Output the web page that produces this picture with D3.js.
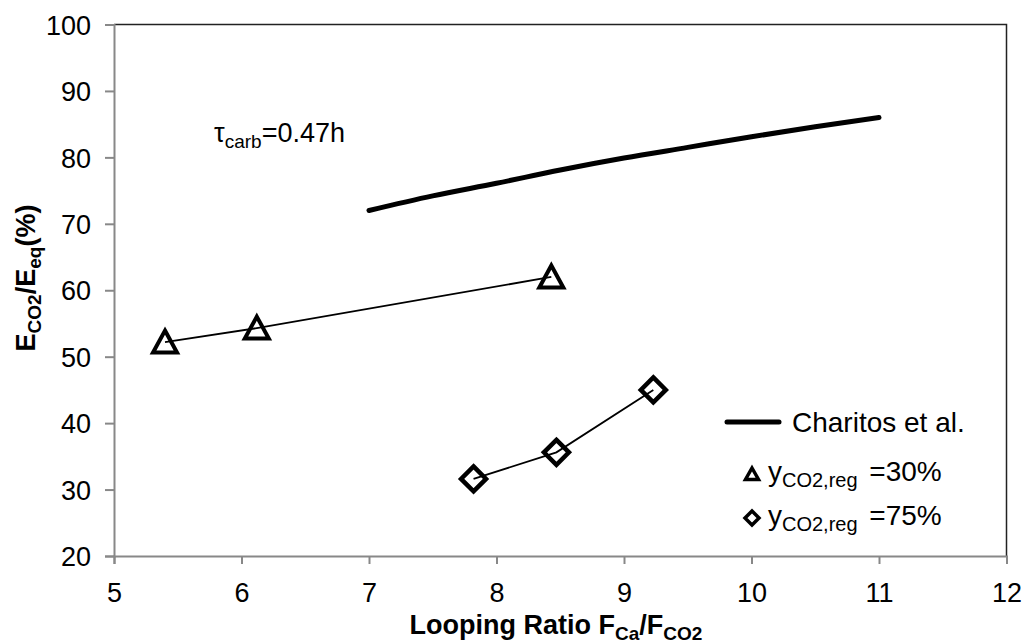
<!DOCTYPE html>
<html>
<head>
<meta charset="utf-8">
<script src="https://cdn.jsdelivr.net/npm/d3@7"></script>
<style>
  body { margin: 0; background: #fff; }
  text { font-family: Arial, "Liberation Sans", sans-serif; fill: #000; }
</style>
</head>
<body>
<div id="chart"></div>
<script>
// Data
var charitosX = [7, 7.5, 8, 8.5, 9, 9.5, 10, 10.5, 11];
var charitosY = [72, 74.2, 76.1, 78.1, 79.9, 81.5, 83.1, 84.6, 86];
var tri30X = [5.4, 6.12, 8.43];
var tri30Y = [52.2, 54.3, 62.0];
var dia75X = [7.82, 8.47, 9.23];
var dia75Y = [31.6, 35.6, 45.0];
var xTicks = [5, 6, 7, 8, 9, 10, 11, 12];
var yTicks = [20, 30, 40, 50, 60, 70, 80, 90, 100];

var width = 1025, height = 644;
var margin = {left: 114, top: 24.5, right: 18.5, bottom: 88};

var svg = d3.select("#chart").append("svg")
    .attr("width", width)
    .attr("height", height);

var x = d3.scaleLinear().domain([5, 12]).range([margin.left, width - margin.right]);
var y = d3.scaleLinear().domain([20, 100]).range([height - margin.bottom, margin.top]);

// top and right border of the plot area
svg.append("path")
    .attr("d", "M" + x(5) + "," + y(100) + "H" + x(12) + "V" + y(20))
    .attr("fill", "none")
    .attr("stroke", "#222")
    .attr("stroke-width", 1.5);

// axes
var xAxis = svg.append("g")
    .attr("transform", "translate(0," + y(20) + ")")
    .call(d3.axisBottom(x).tickValues(xTicks).tickFormat(d3.format("d")).tickSize(8).tickPadding(19));
var yAxis = svg.append("g")
    .attr("transform", "translate(" + x(5) + ",0)")
    .call(d3.axisLeft(y).tickValues(yTicks).tickFormat(d3.format("d")).tickSize(9).tickPadding(14));

[xAxis, yAxis].forEach(function(g) {
  g.select(".domain").attr("stroke", "#888").attr("stroke-width", 2);
  g.selectAll(".tick line").attr("stroke", "#888").attr("stroke-width", 2);
  g.selectAll(".tick text")
    .attr("font-size", 27)
    .attr("font-family", "Arial, 'Liberation Sans', sans-serif")
    .attr("fill", "#000");
});
yAxis.selectAll(".tick text").attr("dy", "0.36em");

// Charitos et al. curve
var line = d3.line()
    .x(function(d) { return x(d[0]); })
    .y(function(d) { return y(d[1]); })
    .curve(d3.curveMonotoneX);

svg.append("path")
    .datum(d3.zip(charitosX, charitosY))
    .attr("d", line)
    .attr("fill", "none")
    .attr("stroke", "#000")
    .attr("stroke-width", 5)
    .attr("stroke-linecap", "round");

// connecting lines of the two series
var straight = d3.line()
    .x(function(d) { return x(d[0]); })
    .y(function(d) { return y(d[1]); });

[d3.zip(tri30X, tri30Y), d3.zip(dia75X, dia75Y)].forEach(function(pts) {
  svg.append("path")
      .datum(pts)
      .attr("d", straight)
      .attr("fill", "none")
      .attr("stroke", "#000")
      .attr("stroke-width", 1.8);
});

// markers
var triangle = "M0,-11.5L12,10.5L-12,10.5Z";
var diamond = "M0,-12.5L12.5,0L0,12.5L-12.5,0Z";

svg.selectAll(".tri")
    .data(d3.zip(tri30X, tri30Y))
    .enter().append("path")
    .attr("class", "tri")
    .attr("transform", function(d) { return "translate(" + x(d[0]) + "," + y(d[1]) + ")"; })
    .attr("d", triangle)
    .attr("fill", "none")
    .attr("stroke", "#000")
    .attr("stroke-width", 4);

svg.selectAll(".dia")
    .data(d3.zip(dia75X, dia75Y))
    .enter().append("path")
    .attr("class", "dia")
    .attr("transform", function(d) { return "translate(" + x(d[0]) + "," + y(d[1]) + ")"; })
    .attr("d", diamond)
    .attr("fill", "none")
    .attr("stroke", "#000")
    .attr("stroke-width", 4.5);

// annotation
var ann = svg.append("text")
    .attr("x", 214)
    .attr("y", 142)
    .attr("font-size", 27);
ann.append("tspan").text("τ");
ann.append("tspan").attr("font-size", 19).attr("dy", 6).text("carb");
ann.append("tspan").attr("dy", -6).text("=0.47h");

// legend
svg.append("line")
    .attr("x1", 727).attr("x2", 779)
    .attr("y1", 422).attr("y2", 422)
    .attr("stroke", "#000")
    .attr("stroke-width", 5)
    .attr("stroke-linecap", "round");
svg.append("text")
    .attr("x", 792).attr("y", 432)
    .attr("font-size", 28)
    .text("Charitos et al.");

svg.append("path")
    .attr("transform", "translate(752,474)")
    .attr("d", "M0,-6L6.5,5.5L-6.5,5.5Z")
    .attr("fill", "none").attr("stroke", "#000").attr("stroke-width", 3.5);
svg.append("path")
    .attr("transform", "translate(752,518)")
    .attr("d", "M0,-7L7,0L0,7L-7,0Z")
    .attr("fill", "none").attr("stroke", "#000").attr("stroke-width", 3.5);

[["=30%", 481], ["=75%", 525]].forEach(function(r) {
  var t = svg.append("text")
      .attr("x", 768).attr("y", r[1])
      .attr("font-size", 28);
  t.append("tspan").text("y");
  t.append("tspan").attr("font-size", 20).attr("dy", 6).text("CO2,reg");
  t.append("tspan").attr("dy", -6).attr("dx", 4).text(" " + r[0]);
});

// axis titles
var xt = svg.append("text")
    .attr("x", 556).attr("y", 634)
    .attr("text-anchor", "middle")
    .attr("font-size", 27)
    .attr("font-weight", "bold");
xt.append("tspan").text("Looping Ratio F");
xt.append("tspan").attr("font-size", 19).attr("dy", 6).text("Ca");
xt.append("tspan").attr("dy", -6).text("/F");
xt.append("tspan").attr("font-size", 19).attr("dy", 6).text("CO2");

var yt = svg.append("text")
    .attr("transform", "translate(35,278) rotate(-90)")
    .attr("text-anchor", "middle")
    .attr("font-size", 27)
    .attr("font-weight", "bold");
yt.append("tspan").text("E");
yt.append("tspan").attr("font-size", 19).attr("dy", 6).text("CO2");
yt.append("tspan").attr("dy", -6).text("/E");
yt.append("tspan").attr("font-size", 19).attr("dy", 6).text("eq");
yt.append("tspan").attr("dy", -6).text("(%)");
</script>
</body>
</html>
